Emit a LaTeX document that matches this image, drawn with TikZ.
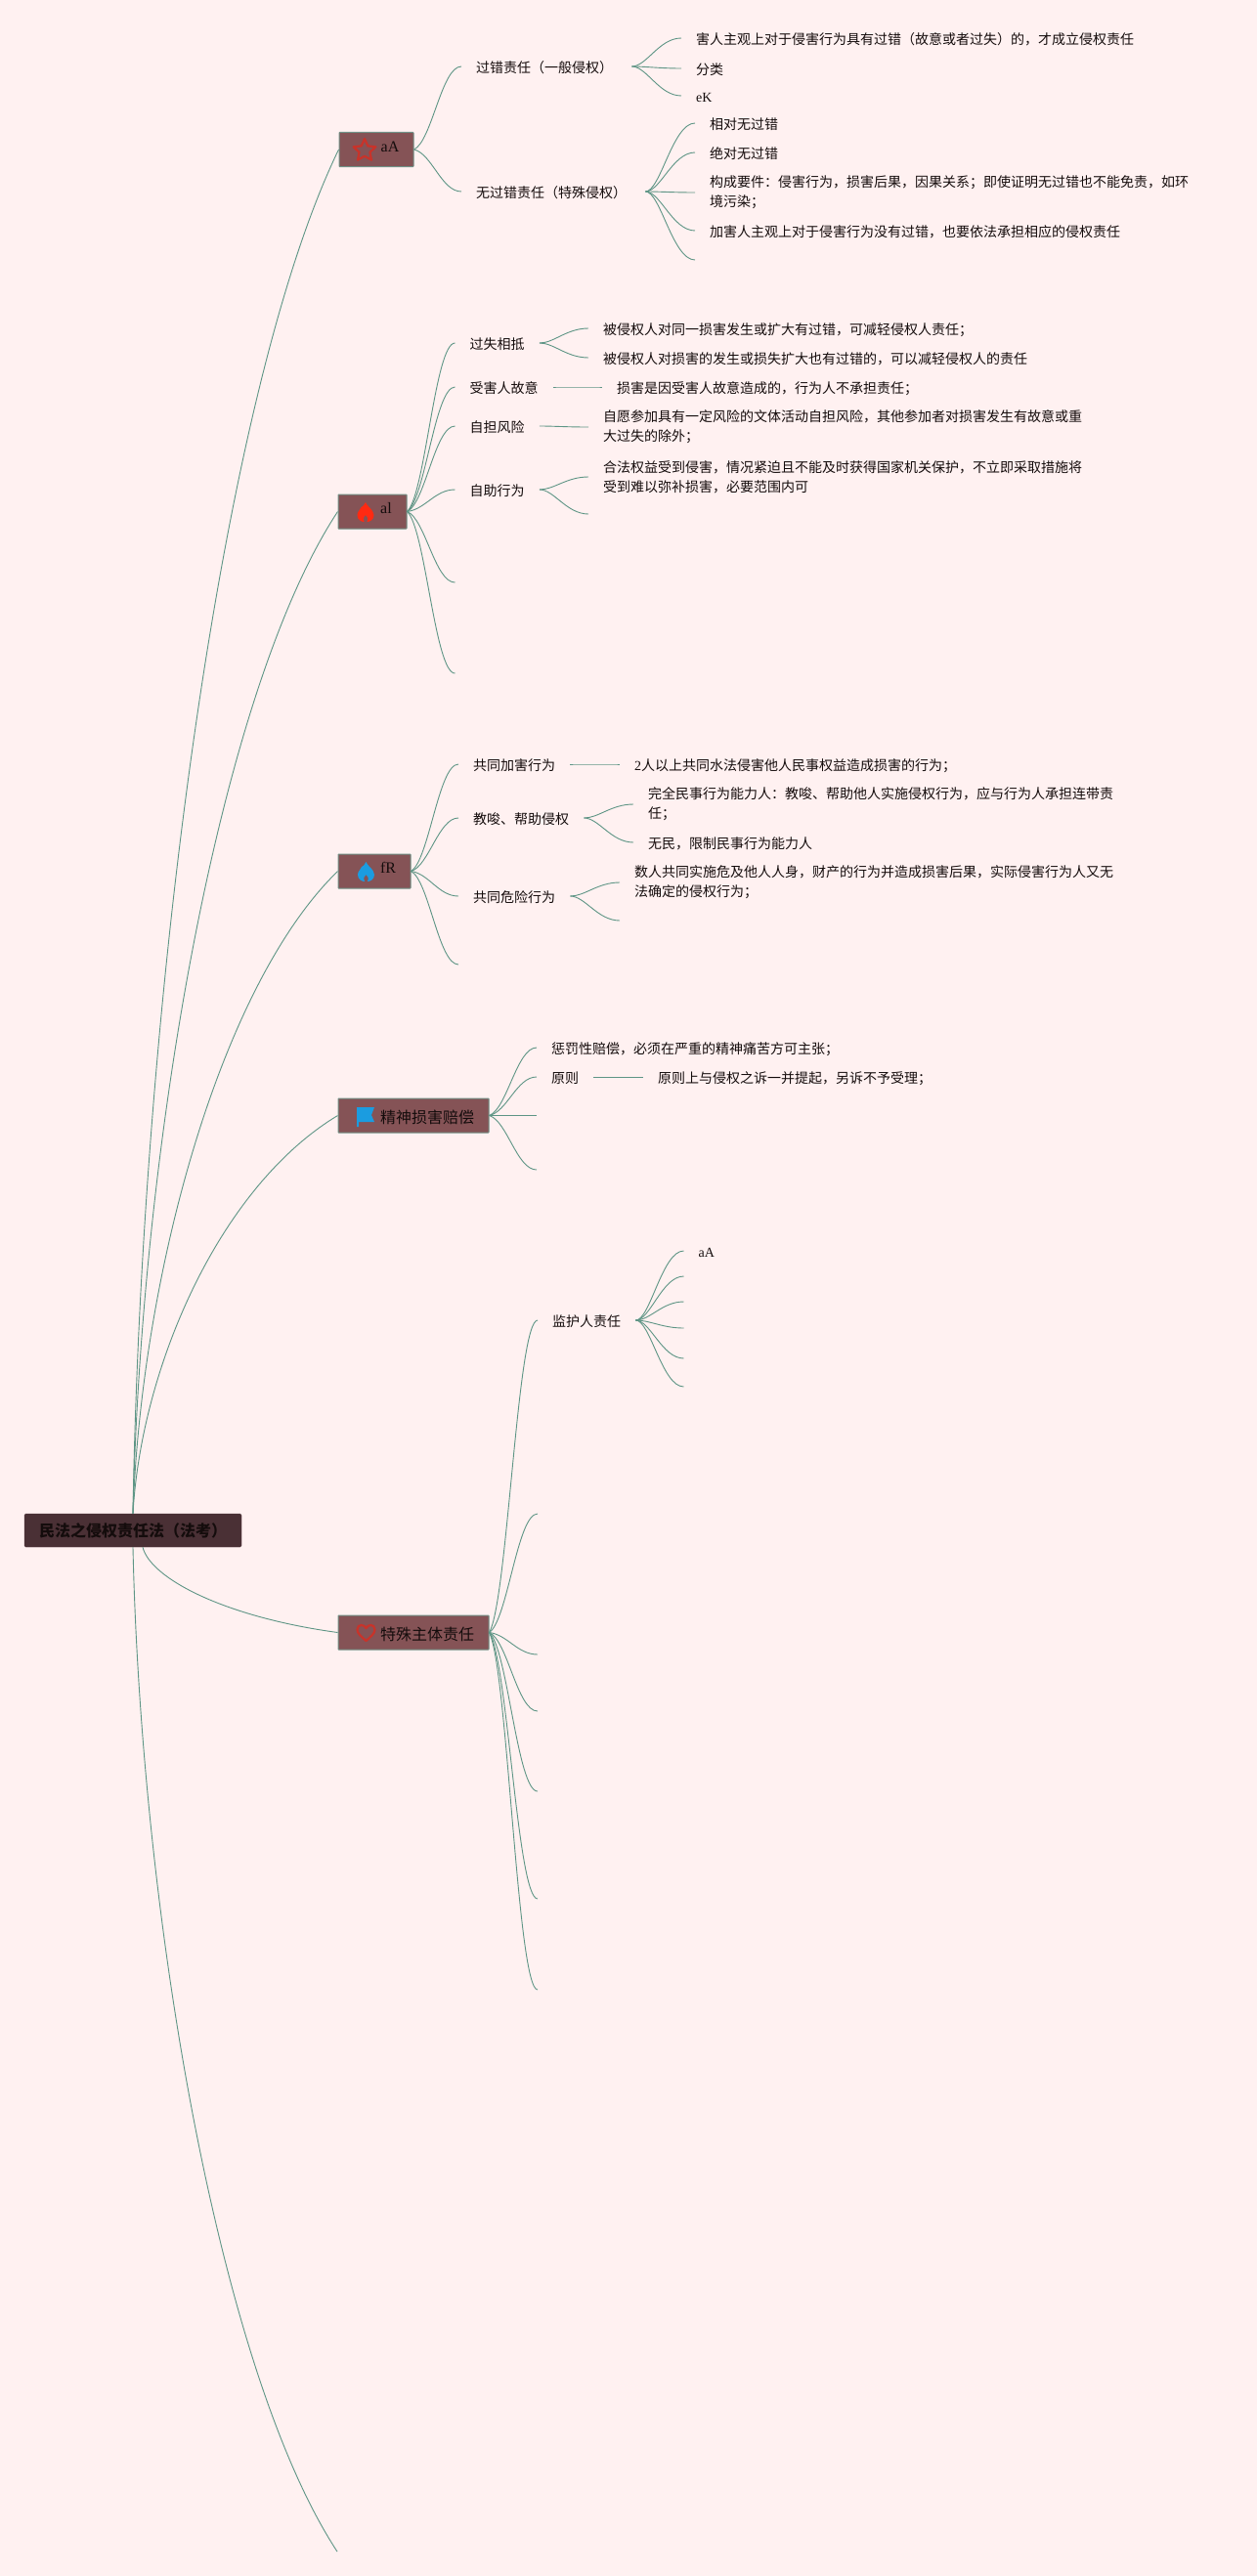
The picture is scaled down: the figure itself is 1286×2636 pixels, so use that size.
\documentclass[tikz,border=0pt]{standalone}
\usepackage{fontspec}
\setmainfont{Liberation Serif}
\newfontfamily\cjk{Noto Sans CJK SC}
\usetikzlibrary{calc,shapes.geometric}

\definecolor{paper}{HTML}{FFF1F1}
\definecolor{rootfill}{HTML}{4A3035}
\definecolor{boxfill}{HTML}{855356}
\definecolor{boxline}{HTML}{6F8F85}
\definecolor{wire}{HTML}{5E9585}
\definecolor{inkblack}{HTML}{140C0C}
\definecolor{iconred}{HTML}{C8332A}
\definecolor{flamered}{HTML}{FF2A12}
\definecolor{iconblue}{HTML}{1B9CE0}

\tikzset{
	rootbox/.style={rectangle, rounded corners=1.5pt, fill=rootfill, draw=rootfill, text=inkblack, minimum width=222pt, minimum height=34pt, inner sep=0pt, font=\cjk\bfseries\fontsize{16}{20}\selectfont},
	topic/.style={rectangle, rounded corners=.5pt, fill=boxfill, draw=boxline, line width=1pt, text=inkblack, minimum height=35pt, inner sep=0pt, text height=17pt, text depth=2pt, font=\cjk\fontsize{16}{20}\selectfont, execute at begin node=\hspace*{28pt}},
	topicen/.style={topic, text height=10.6pt, text depth=6pt, font=\fontsize{16}{20}\selectfont},
	kid/.style={anchor=west, inner xsep=15pt, inner ysep=0pt, text=inkblack, text height=14.4pt, text depth=2pt, font=\cjk\fontsize{14}{20}\selectfont},
	kiden/.style={kid, font=\fontsize{14}{20}\selectfont},
	para/.style={anchor=west, inner xsep=15pt, inner ysep=0pt, text=inkblack, align=left, font=\cjk\fontsize{14}{20}\selectfont},
	% root wires leave upright and arrive on a slant
	trunk/.style={draw=wire, line width=.9pt, to path={let \p1=(\tikztostart), \p2=(\tikztotarget) in .. controls ({\x1+.04*(\x2-\x1)},{\y1+.366*(\y2-\y1)}) and ({\x1+.42*(\x2-\x1)},{\y1+.82*(\y2-\y1)}) .. (\tikztotarget)}},
	% out of a box
	twig/.style={draw=wire, line width=.9pt, to path={let \p1=(\tikztostart), \p2=(\tikztotarget) in .. controls ({\x1+.38*(\x2-\x1)},{\y1+.1*(\y2-\y1)}) and ({\x1+.58*(\x2-\x1)},\y2) .. (\tikztotarget)}},
	% out of a label
	sprig/.style={draw=wire, line width=.9pt, to path={let \p1=(\tikztostart), \p2=(\tikztotarget) in .. controls ({\x1+.3*(\x2-\x1)},\y1) and ({\x1+.55*(\x2-\x1)},\y2) .. (\tikztotarget)}},
	flame/.pic={
		\fill[pic actions] (0,-10) .. controls (1,-6) and (8,-3) .. (8.5,3) .. controls (8.5,8) and (4,10) .. (1.5,10) .. controls (3,7) and (2,4) .. (0,3) .. controls (-2,4) and (-3,7) .. (-1.5,10) .. controls (-4,10) and (-8.5,8) .. (-8.5,3) .. controls (-8.5,-1) and (-5,-2) .. (-4.5,-5) .. controls (-3,-5) and (-2,-7) .. (0,-10) -- cycle;
	}
}

\begin{document}
\begin{tikzpicture}[x=1pt,y=-1pt]
\fill[paper] (0,0) rectangle (1286,2636);
\useasboundingbox (0,0) rectangle (1286,2636);

\node[rootbox] (root) at (136,1566) {民法之侵权责任法（法考）};

\node[topicen, minimum width=76pt] (aA) at (385,153) {aA};
\node[topicen, minimum width=70pt] (al) at (381,523.5) {al};
\node[topicen, minimum width=74pt] (fR) at (383,891.5) {fR};
\node[topic, minimum width=154pt] (jingshen) at (423,1141.5) {精神损害赔偿};
\node[topic, minimum width=154pt] (teshu) at (423,1670.5) {特殊主体责任};
\coordinate (rootend) at (345,2611);

% icons
\node[star, star points=5, star point ratio=2.1, draw=iconred, line width=2.2pt, line join=round, minimum size=24pt, inner sep=0pt] (staricon) at (373,154) {};
\pic[fill=flamered] (flameal) at (374,524) {flame};
\pic[fill=iconblue] (flamefR) at (374.5,892) {flame};
\fill[iconblue] (365,1133) -- (383,1133) -- (380,1141) -- (383,1148) -- (367,1148) -- (367,1153) -- (365,1153) -- cycle;
\draw[iconred, line width=2.2pt, line join=round] (374.5,1679) .. controls (370,1675) and (365.5,1671.5) .. (365.5,1667.5) .. controls (365.5,1664.5) and (367.5,1663) .. (369.5,1663) .. controls (371.5,1663) and (373.5,1664) .. (374.5,1666) .. controls (375.5,1664) and (377.5,1663) .. (379.5,1663) .. controls (381.5,1663) and (383.5,1664.5) .. (383.5,1667.5) .. controls (383.5,1671.5) and (379,1675) .. (374.5,1679) -- cycle;

% aA
\node[kid] (guocuo) at (472,68) {过错责任（一般侵权）\hspace*{4pt}};
\node[kid] (wuguocuo) at (472,196) {无过错责任（特殊侵权）\hspace*{4pt}};
\node[kid] (guocuoA) at (697,39) {害人主观上对于侵害行为具有过错（故意或者过失）的，才成立侵权责任};
\node[kid] (guocuoB) at (697,70) {分类};
\node[kiden] (guocuoC) at (697,98) {eK};
\node[kid] (wuA) at (711,126) {相对无过错};
\node[kid] (wuB) at (711,156) {绝对无过错};
\node[para] (wuC) at (711,197) {构成要件：侵害行为，损害后果，因果关系；即使证明无过错也不能免责，如环\\境污染；};
\node[kid] (wuD) at (711,236) {加害人主观上对于侵害行为没有过错，也要依法承担相应的侵权责任};
\coordinate (wuE) at (711,266);

% al
\node[kid] (guoshi) at (465.5,351) {过失相抵};
\node[kid] (shouhai) at (465.5,396) {受害人故意};
\node[kid] (zidan) at (465.5,436) {自担风险};
\node[kid] (zizhu) at (465.5,501) {自助行为};
\coordinate (alE) at (465.5,596);
\coordinate (alF) at (465.5,689);
\node[kid] (guoshiA) at (602,336) {被侵权人对同一损害发生或扩大有过错，可减轻侵权人责任；};
\node[kid] (guoshiB) at (602,366) {被侵权人对损害的发生或损失扩大也有过错的，可以减轻侵权人的责任};
\node[kid] (shouhaiA) at (616,396) {损害是因受害人故意造成的，行为人不承担责任；};
\node[para] (zidanA) at (602,437) {自愿参加具有一定风险的文体活动自担风险，其他参加者对损害发生有故意或重\\大过失的除外；};
\node[para] (zizhuA) at (602,488) {合法权益受到侵害，情况紧迫且不能及时获得国家机关保护，不立即采取措施将\\受到难以弥补损害，必要范围内可};
\coordinate (zizhuB) at (602,526);

% fR
\node[kid] (jiahai) at (469,782) {共同加害行为};
\node[kid] (jiaosuo) at (469,837) {教唆、帮助侵权};
\node[kid] (weixian) at (469,917) {共同危险行为};
\coordinate (fRD) at (469,987);
\node[kid] (jiahaiA) at (634,782) {{\rmfamily 2}人以上共同水法侵害他人民事权益造成损害的行为；};
\node[para] (jiaosuoA) at (648,823) {完全民事行为能力人：教唆、帮助他人实施侵权行为，应与行为人承担连带责\\任；};
\node[kid] (jiaosuoB) at (648,862) {无民，限制民事行为能力人};
\node[para] (weixianA) at (634,903) {数人共同实施危及他人人身，财产的行为并造成损害后果，实际侵害行为人又无\\法确定的侵权行为；};
\coordinate (weixianB) at (634,942);

% jingshen
\node[kid] (chengfa) at (549,1072) {惩罚性赔偿，必须在严重的精神痛苦方可主张；};
\node[kid] (yuanze) at (549,1102) {原则};
\coordinate (jingshenC) at (549,1141.5);
\coordinate (jingshenD) at (549,1197);
\node[kid] (yuanzeA) at (658,1102) {原则上与侵权之诉一并提起，另诉不予受理；};

% teshu
\node[kid] (jianhu) at (550,1351) {监护人责任};
\coordinate (teshuB) at (550,1549);
\coordinate (teshuC) at (550,1693);
\coordinate (teshuD) at (550,1751);
\coordinate (teshuE) at (550,1833);
\coordinate (teshuF) at (550,1943);
\coordinate (teshuG) at (550,2036);
\node[kiden] (jianhuA) at (699.5,1280) {aA};
\coordinate (jianhuB) at (699.5,1306);
\coordinate (jianhuC) at (699.5,1332);
\coordinate (jianhuD) at (699.5,1359);
\coordinate (jianhuE) at (699.5,1390);
\coordinate (jianhuF) at (699.5,1419);

% wires
\foreach \branch in {aA,al,fR,jingshen}
	\draw[trunk] (root.north) to (\branch.west);
\draw[trunk] (root.south) to (rootend);
\draw[trunk] ([xshift=10pt]root.south) to (teshu.west);

\foreach \kid in {guocuo.west,wuguocuo.west}
	\draw[twig] (aA.east) to (\kid);
\foreach \kid in {guocuoA.west,guocuoB.west,guocuoC.west}
	\draw[sprig] (guocuo.east) to (\kid);
\foreach \kid in {wuA.west,wuB.west,wuC.west,wuD.west,wuE}
	\draw[sprig] (wuguocuo.east) to (\kid);

\foreach \kid in {guoshi.west,shouhai.west,zidan.west,zizhu.west,alE,alF}
	\draw[twig] (al.east) to (\kid);
\foreach \kid in {guoshiA.west,guoshiB.west}
	\draw[sprig] (guoshi.east) to (\kid);
\draw[sprig] (shouhai.east) to (shouhaiA.west);
\draw[sprig] (zidan.east) to (zidanA.west);
\foreach \kid in {zizhuA.west,zizhuB}
	\draw[sprig] (zizhu.east) to (\kid);

\foreach \kid in {jiahai.west,jiaosuo.west,weixian.west,fRD}
	\draw[twig] (fR.east) to (\kid);
\draw[sprig] (jiahai.east) to (jiahaiA.west);
\foreach \kid in {jiaosuoA.west,jiaosuoB.west}
	\draw[sprig] (jiaosuo.east) to (\kid);
\foreach \kid in {weixianA.west,weixianB}
	\draw[sprig] (weixian.east) to (\kid);

\foreach \kid in {chengfa.west,yuanze.west,jingshenC,jingshenD}
	\draw[twig] (jingshen.east) to (\kid);
\draw[sprig] (yuanze.east) to (yuanzeA.west);

\foreach \kid in {jianhu.west,teshuB,teshuC,teshuD,teshuE,teshuF,teshuG}
	\draw[twig] (teshu.east) to (\kid);
\foreach \kid in {jianhuA.west,jianhuB,jianhuC,jianhuD,jianhuE,jianhuF}
	\draw[sprig] (jianhu.east) to (\kid);
\end{tikzpicture}
\end{document}
